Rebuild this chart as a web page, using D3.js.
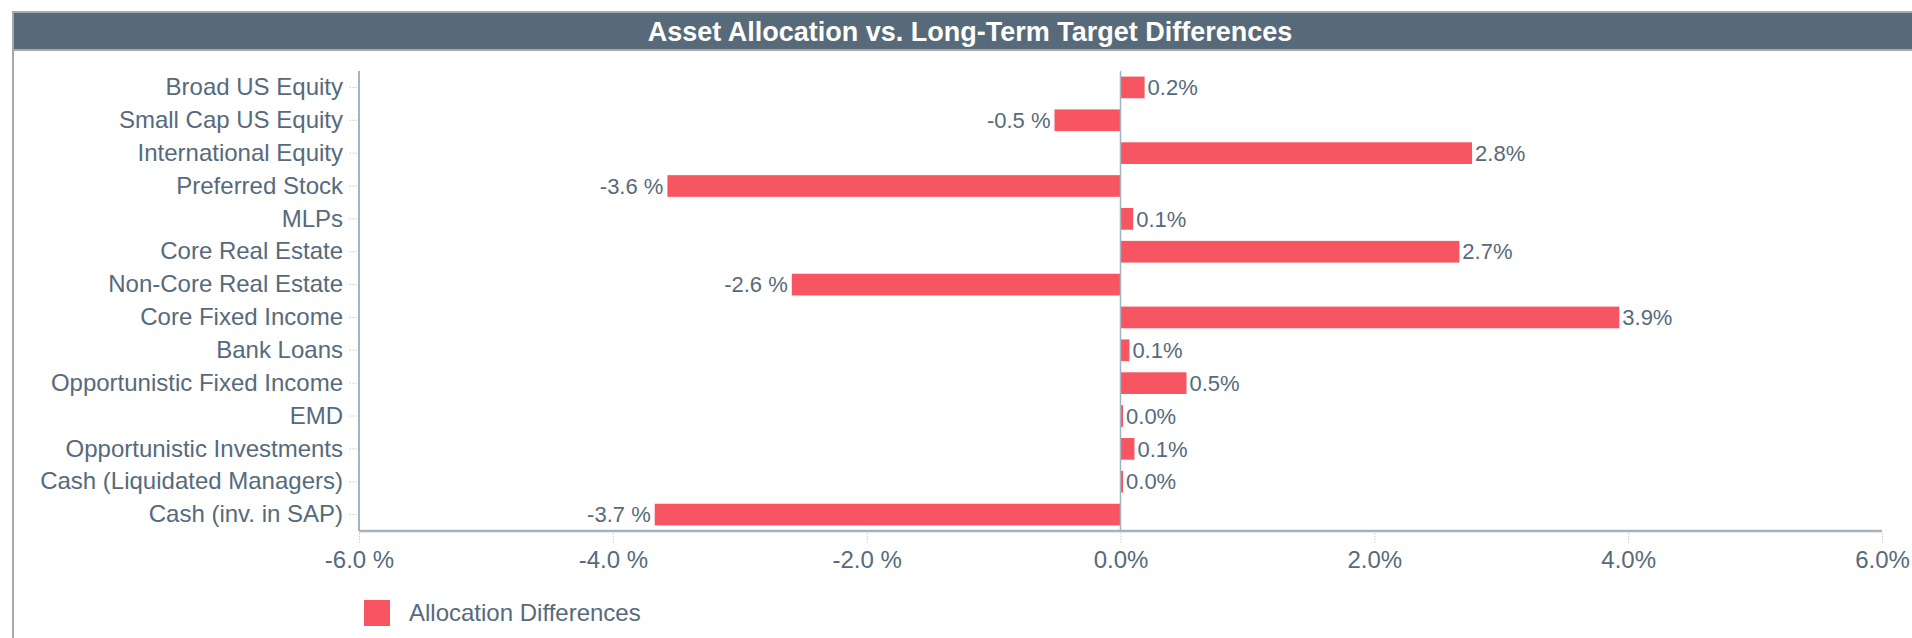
<!DOCTYPE html>
<html>
<head>
<meta charset="utf-8">
<script src="https://cdn.jsdelivr.net/npm/d3@7"></script>
<style>
    body { margin: 0; background: #fff; font-family: "Liberation Sans", Arial, sans-serif; }
    svg { display: block; }
</style>
</head>
<body>
<div id="chart"></div>
<script>
// Chart data
const categories = [
    "Broad US Equity", "Small Cap US Equity", "International Equity", "Preferred Stock",
    "MLPs", "Core Real Estate", "Non-Core Real Estate", "Core Fixed Income",
    "Bank Loans", "Opportunistic Fixed Income", "EMD", "Opportunistic Investments",
    "Cash (Liquidated Managers)", "Cash (inv. in SAP)"
];
const differences = [0.19, -0.52, 2.77, -3.57, 0.1, 2.67, -2.59, 3.93, 0.07, 0.52, 0.02, 0.11, 0.02, -3.67];
const xTicks = [-6, -4, -2, 0, 2, 4, 6];
const seriesName = "Allocation Differences";
const chartTitle = "Asset Allocation vs. Long-Term Target Differences";

const width = 1912, height = 638;
const margin = { top: 71, right: 30, bottom: 107, left: 359 };
const innerWidth = 1882 - margin.left;
const innerHeight = 531 - margin.top;

const textColor = "#566a7c";
const barColor = "#f85562";
const axisColor = "#a5b3c0";

function pct(v) {
    return v < 0 ? v.toFixed(1) + " %" : v.toFixed(1) + "%";
}

const svg = d3.select("#chart")
    .append("svg")
    .attr("width", width)
    .attr("height", height)
    .style("font-family", "'Liberation Sans', Arial, sans-serif");

// Title bar
svg.append("rect")
    .attr("x", 13)
    .attr("y", 12)
    .attr("width", width)
    .attr("height", 38)
    .attr("fill", "#576a7a")
    .attr("stroke", "#a8a8a8")
    .attr("stroke-width", 2);

svg.append("line")
    .attr("x1", 13).attr("x2", 13)
    .attr("y1", 12).attr("y2", height)
    .attr("stroke", "#a8a8a8")
    .attr("stroke-width", 2);

svg.append("text")
    .attr("x", 970)
    .attr("y", 31)
    .attr("dy", "0.36em")
    .attr("text-anchor", "middle")
    .style("fill", "#fff")
    .style("font-size", "27px")
    .style("font-weight", "bold")
    .text(chartTitle);

const g = svg.append("g")
    .attr("transform", `translate(${margin.left},${margin.top})`);

const x = d3.scaleLinear()
    .domain([-6, 6])
    .range([0, innerWidth]);

const y = d3.scaleBand()
    .domain(categories)
    .range([0, innerHeight])
    .paddingInner(0.34)
    .paddingOuter(0.17);

// Axes
const yAxis = g.append("g")
    .call(d3.axisLeft(y).tickSize(10).tickPadding(6).tickSizeOuter(0));
yAxis.select(".domain").remove();
yAxis.selectAll(".tick line")
    .attr("x1", -2)
    .attr("stroke", "#c4c9ce")
    .attr("stroke-dasharray", "1.5,1.5");
yAxis.selectAll("text")
    .style("fill", textColor)
    .style("font-size", "24px")
    .style("font-family", "'Liberation Sans', Arial, sans-serif");

const xAxis = g.append("g")
    .attr("transform", `translate(0,${innerHeight})`)
    .call(d3.axisBottom(x).tickValues(xTicks).tickFormat(pct).tickSize(12).tickPadding(8).tickSizeOuter(0));
xAxis.select(".domain").remove();
xAxis.selectAll(".tick line")
    .attr("y1", 2)
    .attr("stroke", "#c4c9ce")
    .attr("stroke-dasharray", "1.5,1.5");
xAxis.selectAll("text")
    .style("fill", textColor)
    .style("font-size", "24px")
    .style("font-family", "'Liberation Sans', Arial, sans-serif");

// Plot frame lines
g.append("line")
    .attr("x1", 0).attr("x2", 0)
    .attr("y1", 0).attr("y2", innerHeight)
    .attr("stroke", axisColor)
    .attr("stroke-width", 2);

g.append("line")
    .attr("x1", 0).attr("x2", innerWidth)
    .attr("y1", innerHeight).attr("y2", innerHeight)
    .attr("stroke", axisColor)
    .attr("stroke-width", 2.5);

// Bars
g.selectAll(".bar")
    .data(differences)
    .enter()
    .append("rect")
    .attr("class", "bar")
    .attr("x", d => x(Math.min(0, d)))
    .attr("y", (d, i) => y(categories[i]))
    .attr("width", d => Math.max(1.5, Math.abs(x(d) - x(0))))
    .attr("height", y.bandwidth())
    .attr("fill", barColor);

// Zero line
g.append("line")
    .attr("x1", x(0)).attr("x2", x(0))
    .attr("y1", 0).attr("y2", innerHeight)
    .attr("stroke", axisColor)
    .attr("stroke-width", 1.5);

// Value labels
g.selectAll(".value")
    .data(differences)
    .enter()
    .append("text")
    .attr("class", "value")
    .attr("x", d => d < 0 ? x(d) - 4 : x(d) + 3)
    .attr("y", (d, i) => y(categories[i]) + y.bandwidth() / 2)
    .attr("dy", "0.35em")
    .attr("text-anchor", d => d < 0 ? "end" : "start")
    .style("fill", textColor)
    .style("font-size", "22px")
    .text(d => pct(d));

// Legend
const legend = svg.append("g")
    .attr("transform", "translate(364,600)");
legend.append("rect")
    .attr("width", 26)
    .attr("height", 26)
    .attr("fill", barColor);
legend.append("text")
    .attr("x", 45)
    .attr("y", 13)
    .attr("dy", "0.35em")
    .style("fill", textColor)
    .style("font-size", "24px")
    .text(seriesName);
</script>
</body>
</html>
